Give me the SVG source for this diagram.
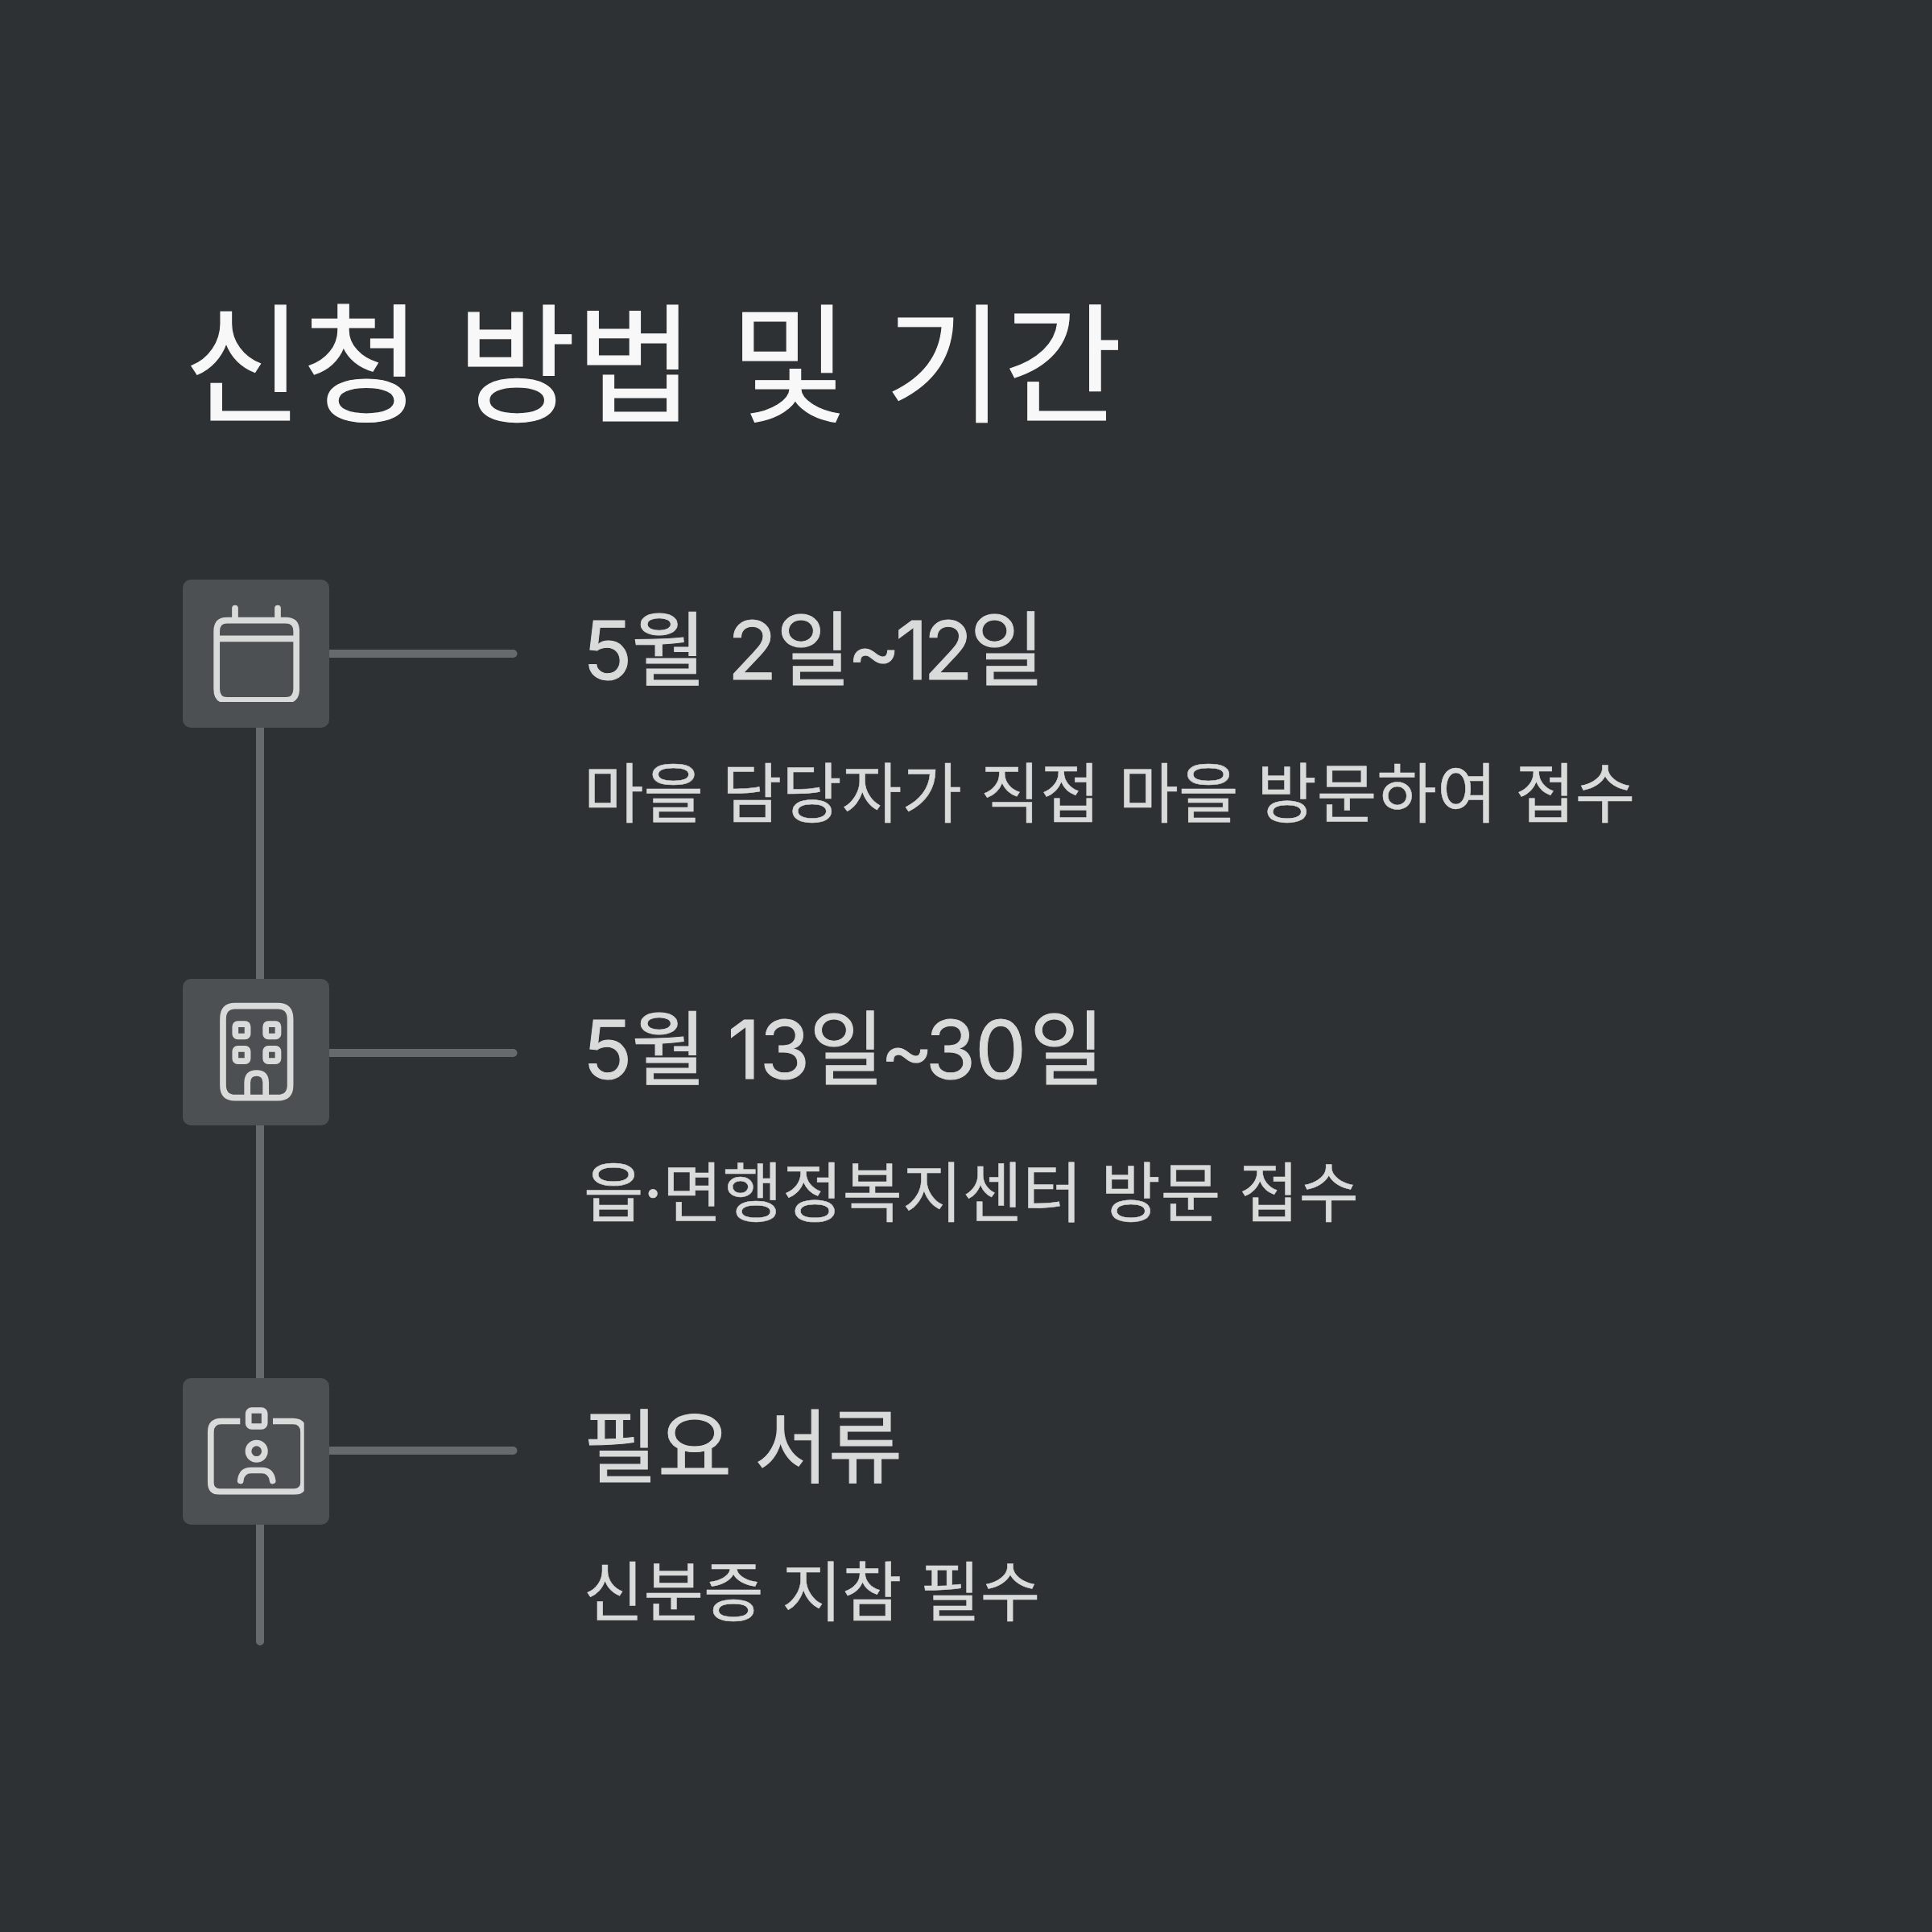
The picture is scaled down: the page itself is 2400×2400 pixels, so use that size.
<svg xmlns="http://www.w3.org/2000/svg" width="2400" height="2400" viewBox="0 0 2400 2400">
<style>
text{font-family:"Inter","Noto Sans CJK KR",sans-serif}
.t{font-size:160px;fill:#f8f8f8;stroke:#f8f8f8;stroke-width:1.2}
.h{font-size:101px;fill:#d9dbda;stroke:#d9dbda;stroke-width:1}
.k{font-size:100px}
.s{font-size:81px;fill:#d9dbda;stroke:#d9dbda;stroke-width:.5}
.box{fill:#4c5053}
.c{stroke:#666a6d;stroke-width:10;stroke-linecap:round;fill:none}
.i{fill:none;stroke:#d9dbda;stroke-width:7.700;stroke-linecap:round;stroke-linejoin:round}
</style>
<defs>
<clipPath id="c1"><rect x="260" y="745" width="112" height="127"/></clipPath>
<clipPath id="c3"><rect x="250" y="1740" width="127.700" height="116.700"/></clipPath>
</defs>
<rect width="2400" height="2400" fill="#2e3134"/>
<g id="connectors">
<path class="c" d="M323 900V1220M323 1394V1716M323 1890V2039M405 812H637.500M405 1308H637.500M405 1802H637.500"/>
</g>
<g id="title"><text class="t" x="228.500" y="512">신청 방법 및 기간</text></g>
<g id="node1">
<rect class="box" x="227" y="720" width="182" height="184" rx="10"/>
<path class="i" clip-path="url(#c1)" d="M292 755.500V770M345 755.500V770M269.200 793.300H368.200M282 770.700H355Q368.200 770.700 368.200 784V856Q368.200 869.900 355 869.900H282Q269.200 869.900 269.200 856V784Q269.200 770.700 282 770.700Z"/>
<text class="h" x="724" y="844" letter-spacing="-1">5월 2일<tspan dx="-4">~</tspan><tspan dx="-6">1</tspan><tspan dx="-5">2</tspan><tspan dx="-3">일</tspan></text>
<text class="s" x="725" y="1015">마을 담당자가 직접 마을 방문하여 접수</text>
</g>
<g id="node2">
<rect class="box" x="227" y="1216" width="182" height="182" rx="10"/>
<path class="i" d="M292 1249.700H345Q360.600 1249.700 360.600 1266V1348Q360.600 1363.700 345 1363.700H292Q277 1363.700 277 1348V1266Q277 1249.700 292 1249.700ZM307.200 1363V1345Q307.200 1333 318.700 1333Q330.200 1333 330.200 1345V1363"/>
<rect class="i" x="292.300" y="1272.200" width="15.300" height="15.300" rx="3"/><rect class="i" x="330.200" y="1272.200" width="15.300" height="15.300" rx="3"/><rect class="i" x="292.300" y="1302.800" width="15.300" height="15.300" rx="3"/><rect class="i" x="330.200" y="1302.800" width="15.300" height="15.300" rx="3"/>
<text class="h" x="724" y="1340" letter-spacing="-1">5월 13일<tspan dx="-4">~</tspan><tspan dx="-8">3</tspan>0<tspan dx="5">일</tspan></text>
<text class="s" x="725" y="1511">읍·면행정복지센터 방문 접수</text>
</g>
<g id="node3">
<rect class="box" x="227" y="1712" width="182" height="182" rx="10"/>
<path class="i" clip-path="url(#c3)" style="stroke-linecap:butt" d="M298.300 1765.500H275Q261.800 1765.500 261.800 1779V1842Q261.800 1853 273 1853H365Q377 1853 377 1842V1779Q377 1765.500 364 1765.500H339"/>
<rect class="i" x="308.700" y="1752" width="20" height="20" rx="4"/>
<circle class="i" cx="318.700" cy="1802.700" r="10.200"/>
<path class="i" d="M298.700 1839.500Q300 1826.500 312 1826.500H325Q337 1826.500 338.700 1839.500"/>
<text class="h k" x="725" y="1834">필요 서류</text>
<text class="s" x="725" y="2007">신분증 지참 필수</text>
</g>
</svg>
